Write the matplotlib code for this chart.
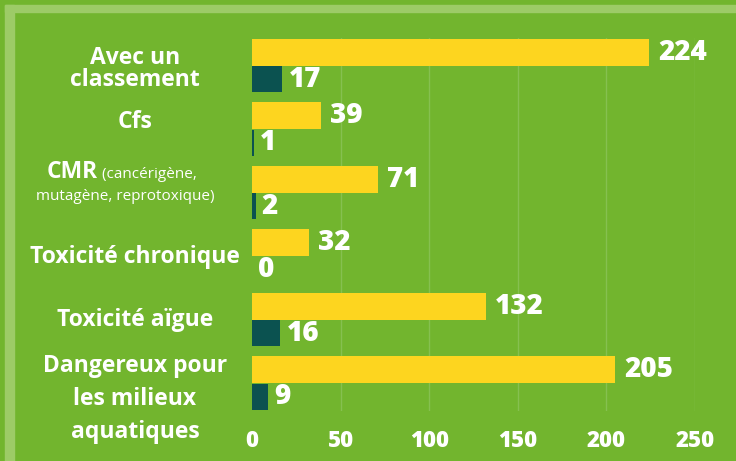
import numpy as np
import matplotlib.pyplot as plt
import matplotlib.transforms as mtransforms
from matplotlib.patches import Rectangle

# Données
categories = ['Avec un\nclassement', 'Cfs', 'CMR', 'Toxicité chronique',
              'Toxicité aïgue', 'Dangereux pour\nles milieux\naquatiques']
serie_jaune = [224, 39, 71, 32, 132, 205]
serie_verte = [17, 1, 2, 0, 16, 9]
ticks_x = [0, 50, 100, 150, 200, 250]

# Couleurs
fond = '#72B52E'
jaune = '#FDD51F'
vert = '#0B5250'
bord = '#9DCB67'

plt.rcParams['font.family'] = ['Open Sans', 'DejaVu Sans']

W, H = 736, 461
fig = plt.figure(figsize=(W / 100, H / 100), dpi=100, facecolor=fond)

# cadre clair (haut et gauche)
fig.patches.append(Rectangle((5 / W, 1 - 12 / H), 1, 7 / H, transform=fig.transFigure,
                             color=bord, zorder=0))
fig.patches.append(Rectangle((5 / W, 0), 9 / W, 1 - 5 / H, transform=fig.transFigure,
                             color=bord, zorder=0))

# axes : x=0 à 252px, x=250 à 695px ; haut 38px, bas 411px
ax = fig.add_axes([252 / W, 1 - 411 / H, (695 - 252) / W, (411 - 38) / H])
ax.set_facecolor('none')

y = np.arange(len(categories))
ax.barh(y - 0.213, serie_jaune, height=0.425, color=jaune, zorder=2)
ax.barh(y + 0.213, serie_verte, height=0.41, color=vert, zorder=2)

ax.set_xlim(0, 250)
ax.set_ylim(len(categories) - 1 + 0.44, -0.44)
ax.set_xticks(ticks_x)
ax.set_xticklabels([str(t) for t in ticks_x], color='white', fontsize=16, fontweight='heavy')
ax.set_yticks([])
ax.tick_params(axis='x', length=0, pad=13)
for s in ax.spines.values():
    s.set_visible(False)
ax.grid(axis='x', color='#86C050', linewidth=1, zorder=1)
ax.get_xgridlines()[0].set_visible(False)

# valeurs
for i in range(len(categories)):
    ax.annotate(str(serie_jaune[i]), xy=(serie_jaune[i], i - 0.213), xytext=(6.5, 0),
                textcoords='offset points', va='center', ha='left', color='white',
                fontsize=20, fontweight='heavy', annotation_clip=False)
    ax.annotate(str(serie_verte[i]), xy=(serie_verte[i], i + 0.213), xytext=(4.5, 0),
                textcoords='offset points', va='center', ha='left', color='white',
                fontsize=20, fontweight='heavy', annotation_clip=False)

# libellés des catégories
trans = mtransforms.blended_transform_factory(fig.transFigure, ax.transData)
decalage = [3, -7, 0, 1, 0, 16]   # décalage vertical en pixels
interligne = [0.92, 1.0, 1.0, 1.0, 1.0, 1.5]
for i, lab in enumerate(categories):
    if lab == 'CMR':
        continue
    ax.annotate(lab, xy=(135 / W, i), xycoords=trans, xytext=(0, -decalage[i] * 0.72),
                textcoords='offset points', ha='center', va='center', color='white',
                fontsize=16.5, fontweight='bold', linespacing=interligne[i])

i_cmr = categories.index('CMR')
t_cmr = ax.annotate('CMR', xy=(98 / W, i_cmr), xycoords=trans, xytext=(0, 21 * 0.72),
                    textcoords='offset points', ha='right', va='center', color='white',
                    fontsize=16.5, fontweight='bold')
ax.annotate(' (cancérigène,', xy=(1, 0.25), xycoords=t_cmr, ha='left', va='baseline',
            color='white', fontsize=11)
ax.annotate('mutagène, reprotoxique)', xy=(125 / W, i_cmr), xycoords=trans,
            xytext=(0, -3), textcoords='offset points',
            ha='center', va='center', color='white', fontsize=11)

fig.savefig('out.png', dpi=100, facecolor=fond)
